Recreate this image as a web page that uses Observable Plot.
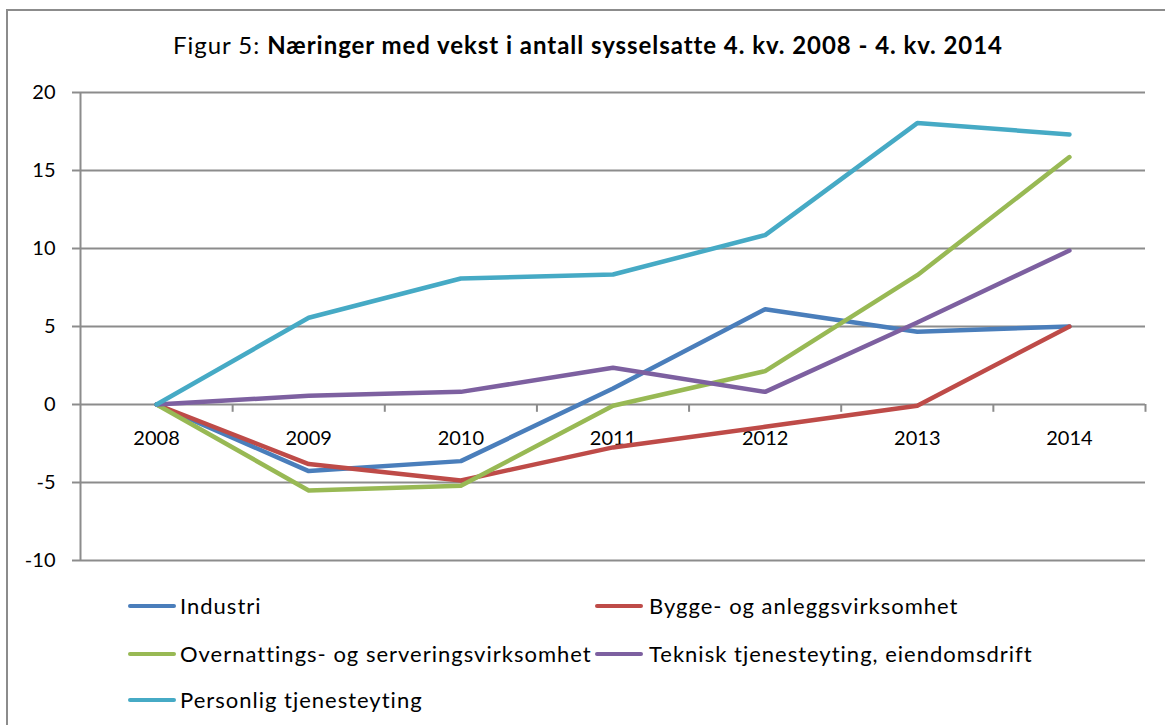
<!DOCTYPE html>
<html><head><meta charset="utf-8">
<script src="https://cdn.jsdelivr.net/npm/d3@7"></script>
<script src="https://cdn.jsdelivr.net/npm/@observablehq/plot@0.6"></script>
<style>
body{margin:0;background:#fff;font-family:Lato,"Open Sans",sans-serif;color:#000;}
#wrap{position:relative;width:1165px;height:725px;overflow:hidden;background:#fff;}
#frame{position:absolute;left:6px;top:9px;width:1200px;height:800px;border:2px solid #8c8c8c;box-sizing:border-box;}
#title{position:absolute;left:0;top:30px;width:1176px;text-align:center;font-size:24px;letter-spacing:0.95px;white-space:nowrap;}
#chart{position:absolute;left:0;top:80px;}
.sw{position:absolute;height:4px;width:48px;border-radius:2px;}
.lt{position:absolute;font-size:22px;letter-spacing:1px;white-space:nowrap;line-height:24px;}
</style></head>
<body>
<div id="wrap">
  <div id="frame"></div>
  <div id="title">Figur 5: <b>Næringer med vekst i antall sysselsatte 4. kv. 2008 - 4. kv. 2014</b></div>
  <div id="chart"></div>
  <div id="legend"></div>
</div>
<script>
const years = [2008, 2009, 2010, 2011, 2012, 2013, 2014];
const seriesNames = ["Industri", "Bygge- og anleggsvirksomhet", "Overnattings- og serveringsvirksomhet", "Teknisk tjenesteyting, eiendomsdrift", "Personlig tjenesteyting"];
const industri    = [0, -4.27, -3.63, 1.03, 6.11, 4.66, 5.0];
const bygge       = [0, -3.82, -4.87, -2.75, -1.43, -0.08, 5.0];
const overnatting = [0, -5.51, -5.21, -0.08, 2.14, 8.29, 15.86];
const teknisk     = [0, 0.56, 0.81, 2.35, 0.81, 5.26, 9.87];
const personlig   = [0, 5.56, 8.08, 8.33, 10.86, 18.04, 17.31];
const colors = ["#4A7EBB", "#BE4B48", "#98B954", "#7D60A0", "#46AAC5"];
const yTicks = [-10, -5, 0, 5, 10, 15, 20];

const seriesValues = [industri, bygge, overnatting, teknisk, personlig];
const rows = [];
seriesNames.forEach((name, s) => years.forEach((yr, i) => rows.push({year: yr, value: seriesValues[s][i], name})));
const boundaries = years.map(y => y + 0.5);
const grid = "#8c8c8c";

const chart = Plot.plot({
  width: 1165, height: 500,
  marginTop: 12, marginBottom: 20, marginLeft: 80, marginRight: 20,
  style: {fontFamily: "Lato, 'Open Sans', sans-serif", background: "transparent"},
  x: {domain: [years[0] - 0.5, years[years.length - 1] + 0.5], axis: null},
  y: {domain: [yTicks[0], yTicks[yTicks.length - 1]], axis: null},
  color: {domain: seriesNames, range: colors},
  marks: [
    Plot.ruleY(yTicks, {stroke: grid, strokeWidth: 2}),
    Plot.axisY(yTicks, {tickSize: 8, tickPadding: 17, fontSize: 20, stroke: grid, strokeWidth: 2, fill: "#000", strokeOpacity: 1, tickFormat: d => String(d), label: null}),
    Plot.ruleX([years[0] - 0.5], {stroke: grid, strokeWidth: 2}),
    Plot.ruleX(boundaries, {x: d => d, y1: 0, y2: -0.5, stroke: grid, strokeWidth: 2}),
    Plot.text(years, {x: d => d, y: 0, dy: 34, text: d => String(d), fontSize: 20, fill: "#000"}),
    Plot.line(rows, {x: "year", y: "value", z: "name", stroke: "name", strokeWidth: 4.5, strokeLinejoin: "round", strokeLinecap: "round"})
  ]
});
document.getElementById("chart").appendChild(chart);

// legend
const legendPos = [
  {sx: 128, tx: 180, y: 606},
  {sx: 595, tx: 649, y: 606},
  {sx: 128, tx: 180, y: 654},
  {sx: 595, tx: 649, y: 654},
  {sx: 128, tx: 180, y: 700}
];
const leg = document.getElementById("legend");
seriesNames.forEach((name, i) => {
  const p = legendPos[i];
  const sw = document.createElement("div");
  sw.className = "sw";
  sw.style.left = p.sx + "px";
  sw.style.top = (p.y - 2) + "px";
  sw.style.background = colors[i];
  leg.appendChild(sw);
  const t = document.createElement("div");
  t.className = "lt";
  t.style.left = p.tx + "px";
  t.style.top = (p.y - 12) + "px";
  t.textContent = name;
  leg.appendChild(t);
});
</script>
</body></html>
